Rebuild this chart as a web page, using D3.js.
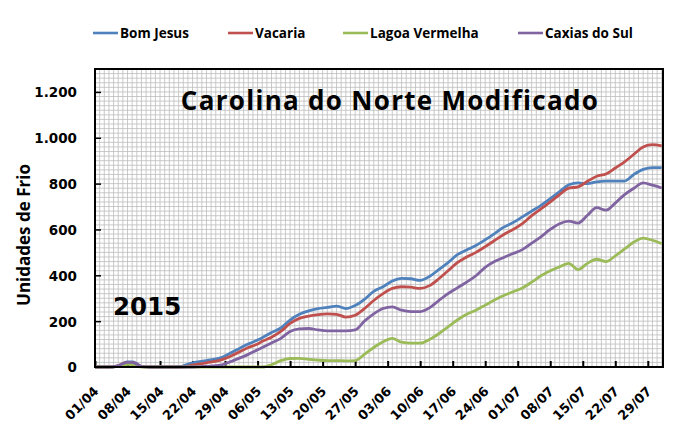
<!DOCTYPE html>
<html>
<head>
<meta charset="utf-8">
<script src="https://cdn.jsdelivr.net/npm/d3@7"></script>
<style>
  body { margin: 0; background: #fff; }
  svg { display: block; }
</style>
</head>
<body>
<div id="chart"></div>
<script>
// daily chill units
let dates = ["01/04","04/04","06/04","07/04","08/04","09/04","10/04","11/04","13/04","16/04",
  "19/04","20/04","22/04","25/04","28/04","01/05","04/05","06/05","07/05","09/05",
  "11/05","13/05","15/05","17/05","19/05","21/05","23/05","25/05","27/05","29/05",
  "31/05","02/06","04/06","06/06","08/06","10/06","12/06","14/06","16/06","18/06",
  "20/06","22/06","24/06","26/06","28/06","30/06","02/07","04/07","06/07","08/07",
  "10/07","12/07","14/07","16/07","18/07","20/07","22/07","24/07","26/07","28/07",
  "30/07","01/08"];

let bomJesus = [0,0,5,15,22,22,15,3,0,0, 0,5,18,28,40,70,100,118,128,150,
  170,205,230,245,255,260,266,255,268,295, 330,350,375,387,385,378,395,425,455,490,
  510,530,555,582,610,630,655,680,705,735, 765,795,803,800,808,811,811,811,840,862, 870,870];

let vacaria = [0,0,5,15,20,20,12,2,0,0, 0,0,8,18,30,55,85,100,112,130,
  155,190,212,222,228,232,230,218,226,255, 290,320,343,350,348,343,355,385,420,455,
  480,500,525,552,578,600,625,660,690,720, 752,780,786,810,832,842,868,895,928,960, 970,965];

let lagoaVermelha = [0,0,3,8,12,10,5,0,0,0, 0,0,0,0,0,0,0,0,0,10,
  28,37,38,33,30,28,28,27,28,55, 85,110,125,108,104,104,120,145,175,205,
  230,248,270,292,312,328,345,370,398,420, 437,452,425,452,470,460,485,515,545,562, 553,538];

let caxiasDoSul = [0,0,5,15,20,20,12,2,0,0, 0,0,0,3,8,30,55,75,85,105,
  125,155,166,168,162,158,158,158,162,200, 232,255,262,248,242,242,258,290,320,345,
  370,398,435,460,478,495,512,540,568,600, 625,636,628,662,695,684,715,752,780,803, 793,781];

let seriesNames = ["Bom Jesus", "Vacaria", "Lagoa Vermelha", "Caxias do Sul"];
let seriesColors = ["#4f81bd", "#c0504d", "#9bbb59", "#8064a2"];
let seriesValues = [bomJesus, vacaria, lagoaVermelha, caxiasDoSul];

let tickLabels = ["01/04","08/04","15/04","22/04","29/04","06/05","13/05","20/05","27/05",
  "03/06","10/06","17/06","24/06","01/07","08/07","15/07","22/07","29/07"];
let yTicks = [0, 200, 400, 600, 800, 1000, 1200];

let width = 684, height = 447;
let margin = { top: 69, right: 21, bottom: 80, left: 95 };
let innerW = width - margin.left - margin.right,
    innerH = height - margin.top - margin.bottom;

let parse = d3.utcParse("%d/%m/%Y");
let toDate = s => parse(s + "/2015");

let start = toDate("01/04");
let end = new Date(Date.UTC(2015, 7, 1, 6, 30));

let x = d3.scaleUtc().domain([start, end]).range([0, innerW]);
let y = d3.scaleLinear().domain([0, 1300]).range([innerH, 0]);

let ptBR = d3.formatLocale({ decimal: ",", thousands: ".", grouping: [3], currency: ["R$", ""] });
let fmt = ptBR.format(",");

let svg = d3.select("#chart").append("svg")
  .attr("width", width).attr("height", height);

let g = svg.append("g")
  .attr("transform", "translate(" + margin.left + "," + margin.top + ")");

// minor grid: one line per day, one per 20 units
g.append("g").attr("class", "vgrid")
  .selectAll("line").data(d3.utcDay.range(start, end))
  .enter().append("line")
  .attr("x1", d => x(d)).attr("x2", d => x(d))
  .attr("y1", 0).attr("y2", innerH)
  .attr("stroke", "#bcbcbc").attr("stroke-width", 0.8);

g.append("g").attr("class", "hgrid")
  .selectAll("line").data(d3.range(0, 1300, 20))
  .enter().append("line")
  .attr("x1", 0).attr("x2", innerW)
  .attr("y1", d => y(d)).attr("y2", d => y(d))
  .attr("stroke", "#bcbcbc").attr("stroke-width", 0.8);

// axes, ticks pointing inside
let xAxis = d3.axisBottom(x)
  .tickValues(tickLabels.map(toDate))
  .tickSize(-6)
  .tickFormat(d3.utcFormat("%d/%m"));

let xg = g.append("g").attr("transform", "translate(0," + innerH + ")").call(xAxis);
xg.select(".domain").remove();
xg.selectAll(".tick line").attr("stroke", "#000").attr("stroke-width", 2);
xg.selectAll(".tick text")
  .attr("font-family", "DejaVu Sans").attr("font-weight", "bold").attr("font-size", "13px")
  .attr("fill", "#000")
  .attr("text-anchor", "end")
  .attr("x", 0).attr("y", 0).attr("dy", 0)
  .attr("transform", "translate(4,25) rotate(-45)");

let yAxis = d3.axisLeft(y).tickValues(yTicks).tickSize(-6).tickFormat(fmt);
let yg = g.append("g").call(yAxis);
yg.select(".domain").remove();
yg.selectAll(".tick line").attr("stroke", "#000").attr("stroke-width", 1.5);
yg.selectAll(".tick text")
  .attr("font-family", "DejaVu Sans").attr("font-weight", "bold").attr("font-size", "13.5px")
  .attr("fill", "#000").attr("x", -18).attr("dy", "0.36em");

// series lines
let line = d3.line()
  .x((d, i) => x(toDate(dates[i])))
  .y(d => y(d))
  .curve(d3.curveMonotoneX);

g.append("g").selectAll("path").data(seriesValues)
  .enter().append("path")
  .attr("d", d => line(d))
  .attr("fill", "none")
  .attr("stroke", (d, i) => seriesColors[i])
  .attr("stroke-width", 2.8)
  .attr("stroke-linejoin", "round");

// plot frame
g.append("rect")
  .attr("x", 0).attr("y", 0).attr("width", innerW).attr("height", innerH)
  .attr("fill", "none").attr("stroke", "#000").attr("stroke-width", 2);

// titles inside the plot
g.append("text")
  .attr("x", 295).attr("y", 41)
  .attr("text-anchor", "middle")
  .attr("font-family", "Open Sans").attr("font-weight", "bold").attr("font-size", "26px")
  .attr("letter-spacing", "1.3px")
  .attr("fill", "#000")
  .text("Carolina do Norte Modificado");

g.append("text")
  .attr("x", 18).attr("y", 246)
  .attr("font-family", "DejaVu Sans").attr("font-weight", "bold").attr("font-size", "24.5px")
  .attr("fill", "#000")
  .text("2015");

// y axis title
svg.append("text")
  .attr("transform", "translate(30,235) rotate(-90)")
  .attr("text-anchor", "middle")
  .attr("font-family", "Open Sans").attr("font-weight", "bold").attr("font-size", "17px")
  .attr("fill", "#000")
  .text("Unidades de Frio");

// legend
let legendX = [93, 228, 343, 518];
let legend = svg.append("g").selectAll("g").data(seriesNames)
  .enter().append("g")
  .attr("transform", (d, i) => "translate(" + legendX[i] + ",33)");

legend.append("line")
  .attr("x1", 0).attr("x2", 25).attr("y1", 0).attr("y2", 0)
  .attr("stroke", (d, i) => seriesColors[i]).attr("stroke-width", 2.6);

legend.append("text")
  .attr("x", 27).attr("y", 5)
  .attr("font-family", "Open Sans").attr("font-weight", "bold").attr("font-size", "13.5px")
  .attr("fill", "#000")
  .text(d => d);
</script>
</body>
</html>
